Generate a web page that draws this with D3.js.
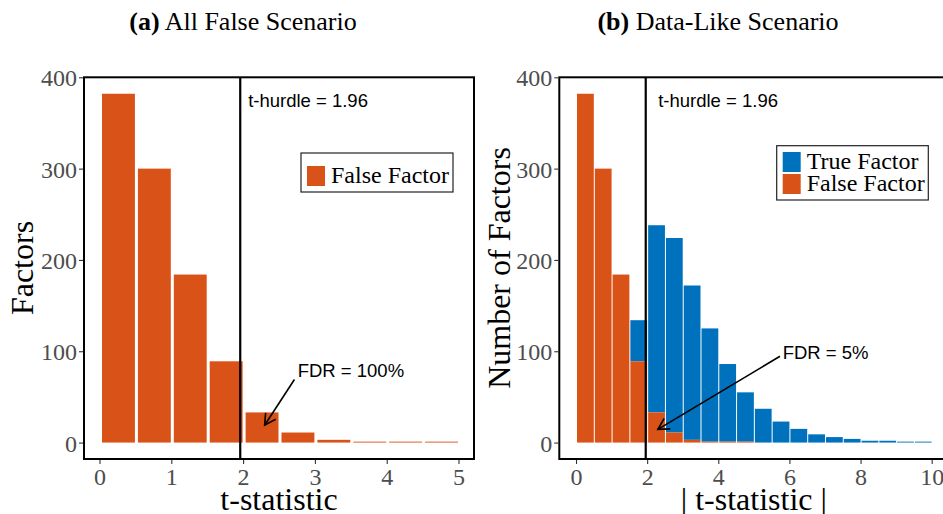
<!DOCTYPE html>
<html>
<head>
<meta charset="utf-8">
<script src="https://cdn.jsdelivr.net/npm/d3@7"></script>
<style>
  html, body { margin: 0; padding: 0; background: #fff; }
  svg { display: block; }
</style>
</head>
<body>
<svg id="chart" width="943" height="514"></svg>
<script>
// ---------------- data ----------------
const binWidth = 0.5;
const leftBinStarts = [0, 0.5, 1, 1.5, 2, 2.5, 3, 3.5, 4, 4.5];
const leftFalse = [382, 300, 184, 89, 33, 11, 3, 1, 1, 1];

const rightBinStarts = [0, 0.5, 1, 1.5, 2, 2.5, 3, 3.5, 4, 4.5, 5, 5.5, 6, 6.5, 7, 7.5, 8, 8.5, 9, 9.5];
const rightFalse = [382, 300, 184, 89, 33, 11, 3, 1, 1, 1, 0, 0, 0, 0, 0, 0, 0, 0, 0, 0];
const rightTrue  = [0, 0, 0, 45, 205, 213, 169, 124, 85, 54, 37, 23, 15, 9, 6, 4, 2, 2, 1, 1];

const yTicks = [0, 100, 200, 300, 400];
const leftXTicks = [0, 1, 2, 3, 4, 5];
const rightXTicks = [0, 2, 4, 6, 8, 10];

const hurdle = 1.96;
const titles = [["(a)", " All False Scenario"], ["(b)", " Data-Like Scenario"]];
const yTitles = ["Factors", "Number of Factors"];
const xTitles = ["t-statistic", "| t-statistic |"];
const hurdleLabel = "t-hurdle = 1.96";
const fdrLabels = ["FDR = 100%", "FDR = 5%"];
const colors = { "True Factor": "#0072BD", "False Factor": "#D95319" };

// ---------------- drawing ----------------
const svg = d3.select("#chart");
const SERIF = "'Liberation Serif', 'DejaVu Serif', serif";
const SANS = "'Liberation Sans', Arial, sans-serif";

const defs = svg.append("defs");
defs.append("marker")
  .attr("id", "arrowhead")
  .attr("viewBox", "-12 -8 14 16")
  .attr("refX", 0).attr("refY", 0)
  .attr("markerWidth", 14).attr("markerHeight", 16)
  .attr("markerUnits", "userSpaceOnUse")
  .attr("orient", "auto")
  .append("path")
  .attr("d", "M-11,-6 L0,0 L-11,6")
  .attr("fill", "none").attr("stroke", "#000").attr("stroke-width", 1.6);

const y = d3.scaleLinear().domain([-18, 400]).range([459, 77.3]);

function panel(cfg) {
  const x = d3.scaleLinear().domain(cfg.xDomain).range(cfg.xRange);
  const g = svg.append("g");
  const bw = x(binWidth) - x(0);

  const rows = cfg.starts.map((s, i) => ({
    s, f: cfg.falseVals[i], t: cfg.trueVals ? cfg.trueVals[i] : 0
  }));
  if (cfg.trueVals) {
    g.selectAll("rect.true").data(rows.filter(d => d.t > 0)).join("rect")
      .attr("x", d => x(d.s) + cfg.gapL)
      .attr("width", bw - cfg.gapL - cfg.gapR)
      .attr("y", d => y(d.f + d.t))
      .attr("height", d => y(d.f) - y(d.f + d.t))
      .attr("fill", colors["True Factor"]);
  }
  g.selectAll("rect.false").data(rows.filter(d => d.f > 0)).join("rect")
    .attr("x", d => x(d.s) + cfg.gapL)
    .attr("width", bw - cfg.gapL - cfg.gapR)
    .attr("y", d => y(d.f))
    .attr("height", d => y(0) - y(d.f))
    .attr("fill", colors["False Factor"]);

  // hurdle line
  g.append("line")
    .attr("x1", x(hurdle)).attr("x2", x(hurdle))
    .attr("y1", y.range()[1]).attr("y2", y.range()[0])
    .attr("stroke", "#000").attr("stroke-width", 2.2);

  // panel border
  g.append("rect")
    .attr("x", cfg.xRange[0]).attr("y", y.range()[1])
    .attr("width", cfg.xRange[1] - cfg.xRange[0])
    .attr("height", y.range()[0] - y.range()[1])
    .attr("fill", "none").attr("stroke", "#000").attr("stroke-width", 2);

  // axes
  const yAxis = g.append("g").attr("transform", `translate(${cfg.xRange[0] - 1},0)`)
    .call(d3.axisLeft(y).tickValues(yTicks).tickFormat(d3.format("d")).tickSize(4).tickPadding(2));
  const xAxis = g.append("g").attr("transform", `translate(0,${y.range()[0] + 1})`)
    .call(d3.axisBottom(x).tickValues(cfg.xTicks).tickFormat(d3.format("d")).tickSize(4).tickPadding(4));
  [yAxis, xAxis].forEach(a => {
    a.select(".domain").remove();
    a.selectAll(".tick line").attr("stroke", "#333").attr("stroke-width", 1.1);
    a.selectAll(".tick text")
      .attr("fill", "#4D4D4D")
      .style("font-family", SERIF).style("font-size", "24px");
  });
  yAxis.selectAll(".tick text").attr("dy", "0.36em");
  xAxis.selectAll(".tick text").attr("dy", "0.70em");

  // title
  const t = svg.append("text")
    .attr("x", cfg.titleX).attr("y", 30)
    .attr("text-anchor", "middle")
    .style("font-family", SERIF).style("font-size", "26px").attr("fill", "#000");
  t.append("tspan").attr("font-weight", "bold").text(cfg.title[0]);
  t.append("tspan").text(cfg.title[1]);

  // axis titles
  svg.append("text")
    .attr("transform", `translate(${cfg.yTitleX},268) rotate(-90)`)
    .attr("text-anchor", "middle")
    .style("font-family", SERIF).style("font-size", "32px")
    .text(cfg.yTitle);
  svg.append("text")
    .attr("x", (cfg.xRange[0] + cfg.xRange[1]) / 2)
    .attr("y", 510)
    .attr("text-anchor", "middle")
    .style("font-family", SERIF).style("font-size", "32px")
    .text(cfg.xTitle);

  // hurdle label
  g.append("text")
    .attr("x", x(cfg.hurdleTextX)).attr("y", y(367))
    .style("font-family", SANS).style("font-size", "18.5px")
    .text(hurdleLabel);

  // FDR annotation
  g.append("line")
    .attr("x1", x(cfg.arrow[0])).attr("y1", y(cfg.arrow[1]))
    .attr("x2", x(cfg.arrow[2])).attr("y2", y(cfg.arrow[3]))
    .attr("stroke", "#000").attr("stroke-width", 1.6)
    .attr("marker-end", "url(#arrowhead)");
  g.append("text")
    .attr("x", x(cfg.fdrPos[0])).attr("y", y(cfg.fdrPos[1]))
    .style("font-family", SANS).style("font-size", "18.5px")
    .text(cfg.fdrLabel);

  // legend
  const L = cfg.legend;
  const lg = g.append("g").attr("transform", `translate(${L.x},${L.y})`);
  lg.append("rect")
    .attr("width", L.w).attr("height", L.h)
    .attr("fill", "#fff").attr("stroke", "#222").attr("stroke-width", 1.2);
  L.items.forEach((name, i) => {
    lg.append("rect")
      .attr("x", 6).attr("y", L.pad + i * 22)
      .attr("width", 18).attr("height", 20)
      .attr("fill", colors[name]);
    lg.append("text")
      .attr("x", 30).attr("y", L.pad + i * 22 + 17)
      .style("font-family", SERIF).style("font-size", "24px")
      .text(name);
  });
}

panel({
  xDomain: [-0.216, 5.216], xRange: [84, 474],
  starts: leftBinStarts, falseVals: leftFalse, trueVals: null,
  gapL: 2.5, gapR: 0.5,
  xTicks: leftXTicks, title: titles[0], titleX: 243,
  yTitle: yTitles[0], yTitleX: 33, xTitle: xTitles[0],
  hurdleTextX: 2.07,
  arrow: [2.715, 69, 2.3, 19], fdrPos: [2.76, 72], fdrLabel: fdrLabels[0],
  legend: { x: 301, y: 153, w: 152, h: 39, pad: 13, items: ["False Factor"] }
});

panel({
  xDomain: [-0.47, 10.47], xRange: [559.3, 948.4],
  starts: rightBinStarts, falseVals: rightFalse, trueVals: rightTrue,
  gapL: 1, gapR: 0,
  xTicks: rightXTicks, title: titles[1], titleX: 718,
  yTitle: yTitles[1], yTitleX: 510, xTitle: xTitles[1],
  hurdleTextX: 2.31,
  arrow: [5.735, 94.5, 2.3, 14.5], fdrPos: [5.81, 92], fdrLabel: fdrLabels[1],
  legend: { x: 776.7, y: 145.7, w: 151.6, h: 54.3, pad: 6.3, items: ["True Factor", "False Factor"] }
});
</script>
</body>
</html>
